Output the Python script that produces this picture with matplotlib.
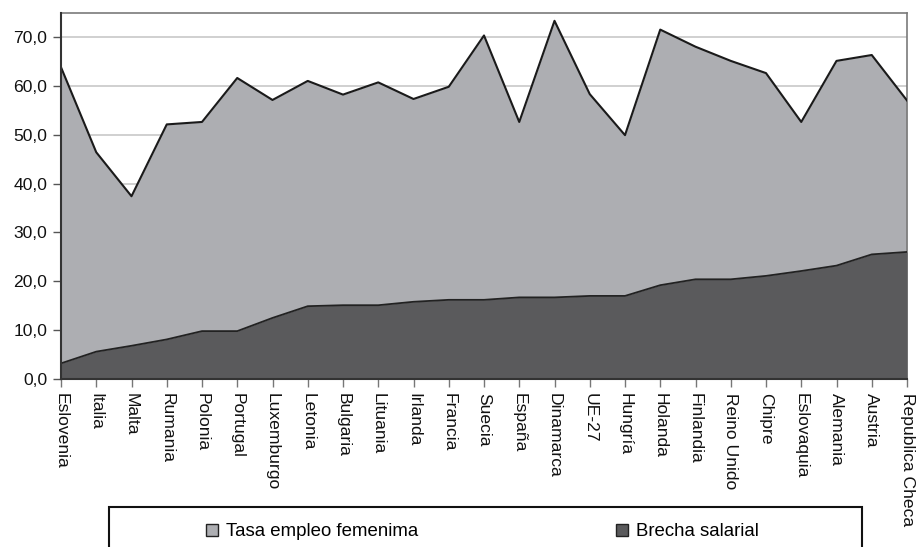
import matplotlib
matplotlib.use("Agg")
import matplotlib.pyplot as plt
from matplotlib.patches import Patch, Rectangle
from matplotlib.ticker import FuncFormatter
import numpy as np

plt.rcParams['font.family'] = ['Liberation Sans', 'DejaVu Sans']

paises = ["Eslovenia", "Italia", "Malta", "Rumania", "Polonia", "Portugal",
          "Luxemburgo", "Letonia", "Bulgaria", "Lituania", "Irlanda", "Francia",
          "Suecia", "España", "Dinamarca", "UE-27", "Hungría", "Holanda",
          "Finlandia", "Reino Unido", "Chipre", "Eslovaquia", "Alemania",
          "Austria", "Republica Checa"]

tasa_empleo = [63.8, 46.4, 37.4, 52.1, 52.6, 61.6, 57.1, 61.0, 58.2, 60.7,
               57.3, 59.8, 70.3, 52.6, 73.3, 58.3, 49.9, 71.5, 68.0, 65.1,
               62.6, 52.6, 65.1, 66.3, 57.0]

brecha_salarial = [3.2, 5.6, 6.8, 8.1, 9.8, 9.8, 12.5, 14.9, 15.1, 15.1,
                   15.8, 16.2, 16.2, 16.7, 16.7, 17.0, 17.0, 19.2, 20.4, 20.4,
                   21.1, 22.1, 23.2, 25.5, 26.0]

yticks = [0, 10, 20, 30, 40, 50, 60, 70]

c_light = "#adaeb2"
c_dark = "#5a5a5c"

fig = plt.figure(figsize=(9.17, 5.47), dpi=100)
ax = fig.add_axes([61/917, 1-379/547, (907-61)/917, (379-12.5)/547])

x = np.arange(len(paises))
ax.fill_between(x, 0, tasa_empleo, color=c_light, lw=0, zorder=2)
ax.plot(x, tasa_empleo, color="#1a1a1a", lw=1.5, zorder=3)
ax.fill_between(x, 0, brecha_salarial, color=c_dark, lw=0, zorder=4)
ax.plot(x, brecha_salarial, color="#222222", lw=1.3, zorder=5)

ax.set_xlim(0, len(paises)-1)
ax.set_ylim(0, 75)
ax.set_yticks(yticks)
ax.yaxis.set_major_formatter(FuncFormatter(lambda v, p: f"{v:.1f}".replace(".", ",")))
ax.grid(axis='y', color="#c8c8c8", lw=1.2, zorder=1)
ax.set_axisbelow(True)

ax.set_xticks(x)
ax.set_xticklabels(paises, rotation=-90, ha='center', va='top', fontsize=12.6, color="#111111")
ax.tick_params(axis='y', labelsize=12.6, labelcolor="#111111", length=6, width=1, color="#555555", pad=4)
ax.tick_params(axis='x', length=6, width=1, color="#777777", pad=4)

for s in ['top', 'right']:
    ax.spines[s].set_color("#7a7a7a")
    ax.spines[s].set_linewidth(1.2)
for s in ['left', 'bottom']:
    ax.spines[s].set_color("#333333")
    ax.spines[s].set_linewidth(1.5)
ax.spines['bottom'].set_zorder(6)
ax.spines['left'].set_zorder(6)

# legend frame
rect = Rectangle((109/917, -0.05), (862-109)/917, 0.05 + (1-507/547),
                 transform=fig.transFigure, fill=False, edgecolor="#111111", lw=1.5)
fig.add_artist(rect)

handles = [Patch(facecolor=c_light, edgecolor="#222222", lw=1),
           Patch(facecolor=c_dark, edgecolor="#222222", lw=1)]
labels = ["Tasa empleo femenima", "Brecha salarial"]
fig.legend(handles, labels, loc='center left', bbox_to_anchor=(206/917, 1-532/547),
           ncol=2, frameon=False, fontsize=13.4, handlelength=0.65, handleheight=0.65,
           handletextpad=0.45, columnspacing=10.6, borderpad=0, borderaxespad=0)

fig.savefig("out.png", dpi=100)
